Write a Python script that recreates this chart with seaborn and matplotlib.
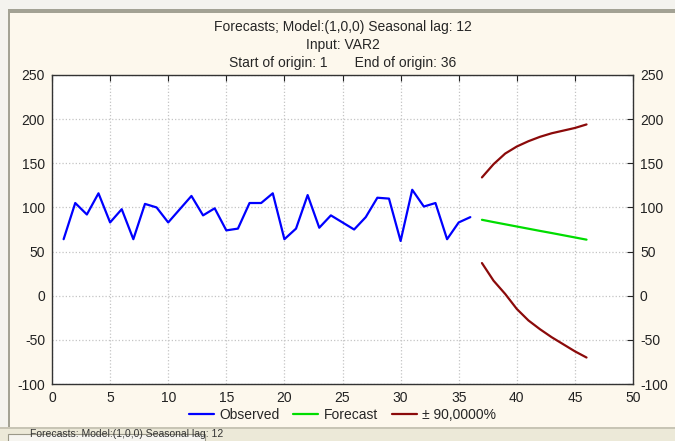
import numpy as np
import pandas as pd
import matplotlib
matplotlib.use("Agg")
import matplotlib.pyplot as plt
import seaborn as sns
from matplotlib.patches import Rectangle

# observed series (t = 1..36)
obs_t = list(range(1, 37))
observed = [64, 105, 92, 116, 83, 98, 64, 104, 100, 83, 98, 113, 91, 99, 74, 76,
            105, 105, 116, 64, 76, 114, 77, 91, 83, 75, 89, 111, 110, 62, 120, 101,
            105, 64, 83, 89]

# forecast and 90% bounds (t = 37..46)
fc_t = list(range(37, 47))
forecast = [86, 83.4, 80.9, 78.4, 75.9, 73.4, 71.0, 68.5, 66.0, 63.5]
upper = [134, 149, 161, 169, 175, 180, 184, 187, 190, 194]
lower = [37, 17, 2, -15, -28, -38, -47, -55, -63, -70]

x_ticks = list(range(0, 51, 5))
y_ticks = list(range(-100, 251, 50))

sns.set_style("white")
plt.rcParams['font.family'] = ['Liberation Sans', 'DejaVu Sans']
plt.rcParams['axes.unicode_minus'] = False

cream = "#fdf8ed"
fig = plt.figure(figsize=(6.75, 4.41), dpi=100, facecolor=cream)
ax = fig.add_axes([52 / 675, 1 - 384 / 441, 581 / 675, 309 / 441])
ax.set_facecolor("white")

# window frame decoration
fig.add_artist(Rectangle((0, 1 - 9 / 441), 1, 9 / 441, transform=fig.transFigure,
                         facecolor="#f4f3ee", edgecolor="none"))
fig.add_artist(Rectangle((0, 1 - 13 / 441), 1, 4 / 441, transform=fig.transFigure,
                         facecolor="#a3a294", edgecolor="none"))
fig.add_artist(Rectangle((0, 0), 8 / 675, 1, transform=fig.transFigure,
                         facecolor="#f4f3ee", edgecolor="none"))
fig.add_artist(Rectangle((8 / 675, 13 / 441), 2 / 675, 1 - 26 / 441, transform=fig.transFigure,
                         facecolor="#a3a294", edgecolor="none"))
fig.add_artist(Rectangle((0, 0), 1, 13 / 441, transform=fig.transFigure,
                         facecolor="#ece9d8", edgecolor="none"))
fig.add_artist(Rectangle((0, 12 / 441), 1, 2 / 441, transform=fig.transFigure,
                         facecolor="#c8c5b5", edgecolor="none"))
fig.add_artist(Rectangle((8 / 675, -0.01), 197 / 675, 11 / 441, transform=fig.transFigure,
                         facecolor="#f6f5f0", edgecolor="#9a9888", linewidth=0.8))
fig.text(30 / 675, 2 / 441, "Forecasts: Model:(1,0,0) Seasonal lag: 12", fontsize=7.5,
         color="#333333", va="bottom", ha="left")

sns.lineplot(x=obs_t, y=observed, color="#0000ff", linewidth=1.6, ax=ax, label="Observed")
sns.lineplot(x=fc_t, y=forecast, color="#00dd00", linewidth=1.6, ax=ax, label="Forecast")
sns.lineplot(x=fc_t, y=upper, color="#8b0a0a", linewidth=1.6, ax=ax, label="± 90,0000%")
sns.lineplot(x=fc_t, y=lower, color="#8b0a0a", linewidth=1.6, ax=ax)

ax.set_xlim(0, 50)
ax.set_ylim(-100, 250)
ax.set_xticks(x_ticks)
ax.set_yticks(y_ticks)
ax.set_xlabel("")
ax.set_ylabel("")
ax.grid(True, linestyle=":", color="#c4c4c4", linewidth=0.9)
ax.tick_params(direction="in", length=4, width=0.8, top=True, right=True,
               labelright=True, labelsize=10, pad=5, colors="#222222")
for s in ax.spines.values():
    s.set_color("#333333")
    s.set_linewidth(1.0)

ax.set_title("Forecasts; Model:(1,0,0) Seasonal lag: 12\nInput: VAR2\n"
             "Start of origin: 1       End of origin: 36",
             fontsize=10, linespacing=1.35, pad=6)

leg = ax.legend(loc="upper center", bbox_to_anchor=(0.5, -0.045), ncol=3, frameon=False,
                fontsize=10, handlelength=1.8, handletextpad=0.4, columnspacing=1.0,
                borderpad=0.2)

fig.savefig("out.png", dpi=100, facecolor=cream)
